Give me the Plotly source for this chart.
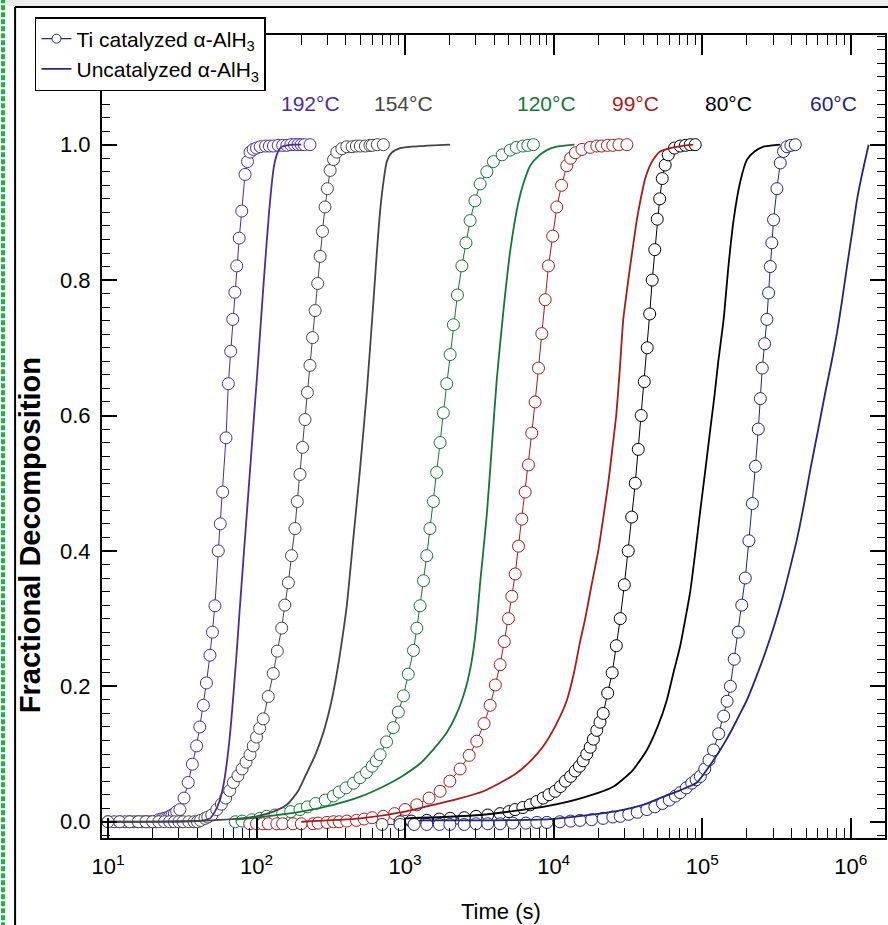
import plotly.graph_objects as go

# temperature labels
temps = ["192°C", "154°C", "120°C", "99°C", "80°C", "60°C"]

# Ti catalyzed (circles): time (s), fractional decomposition
t_cat_192 = [10, 11, 12, 13, 14, 15, 16, 17, 18, 19, 20, 21, 22, 23, 24, 25, 26, 27, 28, 29, 30.5, 32.5, 34.7,
             37, 39.5, 41.5, 43.9, 46, 48.6, 50.5, 52.5, 55.3, 57, 59.2, 62.3, 64.6, 67, 69.2, 71.5, 73.6, 76.5,
             79.5, 83.7, 87, 90.4, 95, 100, 106, 115, 122, 130, 140, 150, 160, 170, 180, 190, 200, 210, 229]
f_cat_192 = [0, 0, 0, 0, 0, 0, 0, 0, 0, 0, 0, 0, 0.003, 0.004, 0.005, 0.006, 0.008, 0.01, 0.012, 0.015, 0.018,
             0.035, 0.058, 0.085, 0.112, 0.14, 0.172, 0.205, 0.246, 0.28, 0.319, 0.40, 0.44, 0.487, 0.567, 0.647,
             0.695, 0.742, 0.782, 0.821, 0.862, 0.902, 0.956, 0.975, 0.989, 0.993, 0.995, 0.997, 0.998, 0.998,
             0.998, 0.999, 0.999, 0.999, 1.0, 1.0, 1.0, 1.0, 1.0, 1.0]

t_cat_154 = [10, 12, 14, 16, 18, 20, 22, 24, 26, 28, 30, 32, 35, 38, 40, 42, 45, 47, 50, 54, 58, 62, 66, 69.8,
             75, 80, 85, 90.4, 95, 100, 105, 111, 120, 129.6, 138, 147.7, 155, 163.8, 172, 181.5, 188, 196, 204,
             212, 220, 229, 238, 248, 258, 268, 278, 289, 300, 313, 330, 347, 375, 405, 440, 470, 500, 540, 580,
             600, 650, 714]
f_cat_154 = [0, 0, 0, 0, 0, 0, 0, 0, 0, 0, 0, 0, 0, 0, 0, 0.002, 0.005, 0.007, 0.01, 0.018, 0.026, 0.035, 0.046,
             0.058, 0.068, 0.078, 0.088, 0.099, 0.112, 0.125, 0.138, 0.152, 0.185, 0.219, 0.252, 0.286, 0.32,
             0.353, 0.393, 0.433, 0.473, 0.513, 0.553, 0.594, 0.634, 0.674, 0.715, 0.755, 0.795, 0.835, 0.872,
             0.908, 0.935, 0.962, 0.978, 0.989, 0.994, 0.997, 0.997, 0.998, 0.998, 0.998, 0.999, 0.999, 1.0, 1.0]

t_cat_120 = [72, 80, 93, 105, 117, 133, 150, 170, 196, 220, 250, 290, 329, 360, 400, 450, 497, 550, 600, 640,
             679, 750, 834, 900, 975, 1050, 1138, 1200, 1262, 1330, 1399, 1470, 1550, 1630, 1720, 1810, 1908,
             2010, 2115, 2250, 2410, 2570, 2740, 2950, 3200, 3550, 3930, 4500, 5100, 5600, 6200, 6700, 7310]
f_cat_120 = [0.0, 0.001, 0.003, 0.005, 0.008, 0.01, 0.012, 0.015, 0.018, 0.022, 0.027, 0.032, 0.038, 0.044,
             0.05, 0.057, 0.065, 0.073, 0.082, 0.09, 0.099, 0.118, 0.139, 0.162, 0.186, 0.218, 0.253, 0.286,
             0.319, 0.356, 0.393, 0.433, 0.473, 0.516, 0.56, 0.604, 0.647, 0.69, 0.734, 0.778, 0.821, 0.855,
             0.888, 0.917, 0.942, 0.96, 0.975, 0.985, 0.992, 0.996, 0.998, 0.999, 1.0]

t_cat_99 = [90, 100, 110, 120, 137, 150, 176, 200, 240, 260, 298, 330, 360, 405, 470, 530, 600, 714, 850,
            1000, 1198, 1450, 1720, 2000, 2345, 2700, 3040, 3400, 3735, 4050, 4360, 4650, 4960, 5230, 5505,
            5800, 6107, 6430, 6765, 7120, 7500, 7900, 8320, 8770, 9225, 9850, 10500, 11300, 12250, 13000,
            14000, 15500, 17600, 19500, 21000, 23000, 25000, 27500, 31100]
f_cat_99 = [-0.003, -0.003, -0.003, -0.003, -0.003, -0.003, -0.003, -0.003, -0.003, -0.002, -0.001, 0.0, 0.0,
            0.001, 0.002, 0.004, 0.006, 0.008, 0.012, 0.018, 0.025, 0.035, 0.045, 0.06, 0.078, 0.098, 0.119,
            0.145, 0.172, 0.202, 0.232, 0.266, 0.30, 0.333, 0.366, 0.407, 0.447, 0.487, 0.527, 0.574, 0.62,
            0.67, 0.721, 0.771, 0.821, 0.865, 0.908, 0.94, 0.969, 0.98, 0.988, 0.993, 0.996, 0.998, 0.998,
            0.999, 0.999, 1.0, 1.0]

t_cat_80 = [925, 1100, 1400, 1700, 2010, 2500, 3000, 3600, 4360, 5000, 5500, 6200, 6950, 7700, 8500, 9300,
            10230, 11100, 12000, 13000, 13960, 14900, 15800, 16700, 17620, 18500, 19500, 20500, 21550, 23100,
            24760, 26400, 28050, 29900, 31760, 33500, 35400, 37100, 38830, 40700, 42630, 44300, 46050, 47900,
            49770, 51700, 53810, 56300, 59050, 65000, 71100, 77000, 83000, 89700]
f_cat_80 = [0.0, 0.001, 0.002, 0.004, 0.005, 0.006, 0.008, 0.01, 0.012, 0.015, 0.018, 0.021, 0.025, 0.03,
            0.035, 0.04, 0.045, 0.052, 0.06, 0.067, 0.075, 0.082, 0.09, 0.1, 0.11, 0.122, 0.135, 0.147, 0.16,
            0.19, 0.22, 0.26, 0.30, 0.35, 0.40, 0.45, 0.50, 0.55, 0.60, 0.65, 0.70, 0.75, 0.80, 0.845, 0.89,
            0.92, 0.95, 0.97, 0.985, 0.995, 0.998, 0.999, 1.0, 1.0]

t_cat_60 = [700, 925, 1150, 1400, 1700, 2000, 2500, 3000, 3600, 4360, 5300, 6500, 7700, 9000, 11000, 13000,
            15060, 18000, 21500, 25000, 28050, 32000, 36500, 42400, 48000, 54000, 60000, 66000, 71100, 78000,
            85000, 91000, 97000, 104000, 111000, 119100, 129000, 139300, 147000, 154600, 164000, 174800, 184500,
            194800, 206000, 217400, 228000, 238400, 246000, 253500, 263000, 272400, 279500, 286800, 294000,
            302000, 318000, 335000, 352000, 371500, 395000, 422600]
f_cat_60 = [-0.004, -0.004, -0.004, -0.004, -0.004, -0.004, -0.004, -0.003, -0.003, -0.003, -0.002, -0.002,
            -0.001, -0.001, 0.0, 0.001, 0.002, 0.003, 0.005, 0.007, 0.008, 0.011, 0.014, 0.018, 0.022, 0.027,
            0.032, 0.038, 0.043, 0.05, 0.057, 0.062, 0.067, 0.078, 0.091, 0.106, 0.13, 0.156, 0.178, 0.2, 0.24,
            0.28, 0.32, 0.36, 0.415, 0.47, 0.525, 0.58, 0.625, 0.67, 0.706, 0.742, 0.781, 0.82, 0.855, 0.889,
            0.935, 0.973, 0.99, 0.997, 0.999, 1.0]

# uncatalyzed (solid lines)
t_unc_192 = [10, 30, 44, 48.6, 52.5, 56.7, 60, 63, 66.5, 69.8, 73.5, 77.4, 81.5, 85.9, 90.5, 95.3, 100.5, 105.6,
             111, 117, 122, 126.6, 131, 136.7, 142, 147.7, 160, 180, 200]
f_unc_192 = [0, 0, 0.002, 0.005, 0.015, 0.032, 0.055, 0.086, 0.132, 0.186, 0.25, 0.319, 0.386, 0.453, 0.52,
             0.587, 0.654, 0.721, 0.788, 0.855, 0.905, 0.942, 0.968, 0.985, 0.993, 0.997, 0.999, 1.0, 1.0]

t_unc_154 = [10, 50, 100, 130, 160, 190, 218, 250, 282, 315, 347, 375, 405, 449, 497, 552, 612, 645, 679, 715,
             753, 810, 925, 1100, 1300, 1550, 2010]
f_unc_154 = [0, 0.002, 0.008, 0.015, 0.025, 0.045, 0.072, 0.1, 0.132, 0.172, 0.219, 0.266, 0.319, 0.42, 0.52,
             0.634, 0.768, 0.84, 0.902, 0.945, 0.975, 0.988, 0.995, 0.997, 0.998, 0.999, 1.0]

t_unc_120 = [72, 117, 200, 329, 500, 714, 950, 1262, 1550, 1908, 2200, 2470, 2700, 2880, 3050, 3200, 3545,
             3835, 4143, 4590, 5090, 5790, 6300, 6950, 7900, 9000, 10500, 12300, 13800]
f_unc_120 = [0.003, 0.008, 0.015, 0.025, 0.037, 0.052, 0.067, 0.086, 0.107, 0.132, 0.157, 0.186, 0.218,
             0.253, 0.3, 0.353, 0.453, 0.554, 0.654, 0.755, 0.842, 0.915, 0.945, 0.969, 0.983, 0.992, 0.997,
             0.999, 1.0]

t_unc_99 = [200, 500, 1000, 1550, 2300, 3365, 4400, 5650, 7000, 8530, 10300, 12250, 13700, 15060, 16300,
            18000, 19950, 21600, 23300, 24800, 26350, 27900, 29400, 31000, 32700, 34500, 36300, 38700, 41300,
            44000, 46800, 52000, 60900, 72000, 86900]
f_unc_99 = [0.0, 0.005, 0.015, 0.025, 0.034, 0.045, 0.058, 0.072, 0.09, 0.112, 0.142, 0.179, 0.22, 0.266,
            0.30, 0.35, 0.40, 0.45, 0.5, 0.55, 0.6, 0.67, 0.742, 0.782, 0.82, 0.856, 0.889, 0.922, 0.95, 0.967,
            0.978, 0.99, 0.995, 0.998, 1.0]

t_unc_80 = [1000, 3200, 9000, 16000, 25300, 34000, 42400, 50000, 57800, 64000, 71100, 77000, 83000, 90000,
            97000, 105000, 113300, 121000, 128200, 139300, 150000, 162600, 180000, 200000, 225000, 258800,
            295000, 335000]
f_unc_80 = [0.005, 0.01, 0.023, 0.036, 0.052, 0.076, 0.106, 0.14, 0.18, 0.22, 0.26, 0.3, 0.34, 0.4, 0.46, 0.52,
            0.58, 0.63, 0.68, 0.742, 0.82, 0.889, 0.945, 0.978, 0.99, 0.997, 0.999, 1.0]

t_unc_60 = [1262, 9460, 25300, 40000, 54900, 72000, 92000, 110000, 132000, 146000, 162600, 180000, 200000,
            232000, 265600, 305000, 345700, 390000, 436700, 485000, 533800, 600000, 673000, 740000, 807000,
            875000, 942000, 1020000, 1101000, 1200000, 1318000]
f_unc_60 = [0.002, 0.004, 0.015, 0.025, 0.037, 0.047, 0.058, 0.08, 0.106, 0.122, 0.141, 0.16, 0.18, 0.215,
            0.25, 0.29, 0.33, 0.375, 0.42, 0.47, 0.52, 0.577, 0.634, 0.678, 0.722, 0.771, 0.82, 0.87, 0.919,
            0.96, 1.0]

cat_series = [(t_cat_192, f_cat_192), (t_cat_154, f_cat_154), (t_cat_120, f_cat_120),
              (t_cat_99, f_cat_99), (t_cat_80, f_cat_80), (t_cat_60, f_cat_60)]
unc_series = [(t_unc_192, f_unc_192), (t_unc_154, f_unc_154), (t_unc_120, f_unc_120),
              (t_unc_99, f_unc_99), (t_unc_80, f_unc_80), (t_unc_60, f_unc_60)]

colors = ["#4b2d9b", "#454545", "#17753a", "#a51c1c", "#000000", "#23257a"]
FONT = "Liberation Sans, Arial, sans-serif"

fig = go.Figure()

for (t, f), c in zip(cat_series, colors):
    fig.add_trace(go.Scatter(x=t, y=f, mode="lines+markers", showlegend=False,
                             line=dict(color=c, width=1),
                             marker=dict(symbol="circle", size=12, color="white",
                                         line=dict(color=c, width=1))))

for (t, f), c in zip(unc_series, colors):
    fig.add_trace(go.Scatter(x=t, y=f, mode="lines", showlegend=False,
                             line=dict(color=c, width=1.8, shape="spline", smoothing=0.6)))

# legend entries
fig.add_trace(go.Scatter(x=[None], y=[None], mode="lines+markers", name="Ti catalyzed α-AlH<sub>3</sub>",
                         line=dict(color="#2a2a80", width=1.2),
                         marker=dict(symbol="circle", size=9, color="white", line=dict(color="#2a2a80", width=1))))
fig.add_trace(go.Scatter(x=[None], y=[None], mode="lines", name="Uncatalyzed α-AlH<sub>3</sub>",
                         line=dict(color="#2a2a80", width=1.8)))

# temperature labels
label_x = [2.36, 2.987, 3.95, 4.549, 5.175, 5.882]
for txt, lx, c in zip(temps, label_x, colors):
    fig.add_annotation(x=lx, y=0.915, xref="x", yref="paper", text=txt, showarrow=False,
                       xanchor="center", yanchor="middle",
                       font=dict(family=FONT, size=21, color=c))

fig.add_annotation(x=0.51, y=-0.092, xref="paper", yref="paper", text="Time (s)", showarrow=False,
                   xanchor="center", yanchor="middle",
                   font=dict(family=FONT, size=22, color="black"))
fig.add_annotation(x=-0.092, y=0.377, xref="paper", yref="paper", text="<b>Fractional Decomposition</b>",
                   textangle=-90, showarrow=False, xanchor="center", yanchor="middle",
                   font=dict(family=FONT, size=29, color="black"))

decades = [10, 100, 1000, 10000, 100000, 1000000]
minor_x = [m * d for d in decades for m in range(2, 10)]

fig.update_xaxes(type="log", range=[0.96, 6.23], showline=True, linewidth=2, linecolor="black",
                 mirror="ticks", ticks="inside", ticklen=20, tickwidth=1.5, tickcolor="black",
                 tickvals=decades, ticktext=["10<sup>%d</sup>" % i for i in range(1, 7)],
                 tickfont=dict(family=FONT, size=22, color="black"), ticklabelstandoff=8,
                 showgrid=False, zeroline=False,
                 minor=dict(tickmode="array", tickvals=minor_x, ticks="inside", ticklen=10,
                            tickwidth=1, tickcolor="black", showgrid=False))
fig.update_yaxes(range=[-0.024, 1.162], showline=True, linewidth=2, linecolor="black",
                 mirror="ticks", ticks="inside", ticklen=15, tickwidth=1.5, tickcolor="black",
                 tick0=0, dtick=0.2, tickformat=".1f",
                 tickfont=dict(family=FONT, size=22, color="black"), ticklabelstandoff=5,
                 showgrid=False, zeroline=False,
                 minor=dict(dtick=0.02, tick0=0, ticks="inside", ticklen=8, tickwidth=1,
                            tickcolor="black", showgrid=False))

fig.update_layout(
    width=888, height=925, autosize=False,
    margin=dict(l=102, r=3, t=35, b=87, autoexpand=False),
    paper_bgcolor="white", plot_bgcolor="white",
    legend=dict(x=-0.0856, y=1.0224, xanchor="left", yanchor="top", bgcolor="white",
                bordercolor="black", borderwidth=1.5, itemwidth=30,
                font=dict(family=FONT, size=21, color="black")),
    shapes=[
        dict(type="rect", xref="paper", yref="paper", x0=-0.2, x1=1.1, y0=1.036, y1=1.05,
             fillcolor="#ececec", line=dict(width=0), layer="below"),
        dict(type="line", xref="paper", yref="paper", x0=-0.111, x1=-0.111, y0=-0.12, y1=1.035,
             line=dict(color="black", width=2)),
        dict(type="line", xref="paper", yref="paper", x0=-0.111, x1=1.01, y0=1.035, y1=1.035,
             line=dict(color="black", width=2)),
        dict(type="line", xref="paper", yref="paper", x0=-0.1264, x1=-0.1264, y0=-0.12, y1=1.05,
             line=dict(color="#22b04a", width=4, dash="5px,2px")),
    ],
)

# drop the browser's default 8px body margin so the figure sits at the page corner
fig.write_html("out.html", config={"displayModeBar": False},
               post_script="document.body.style.margin='0';document.body.style.overflow='hidden';")
